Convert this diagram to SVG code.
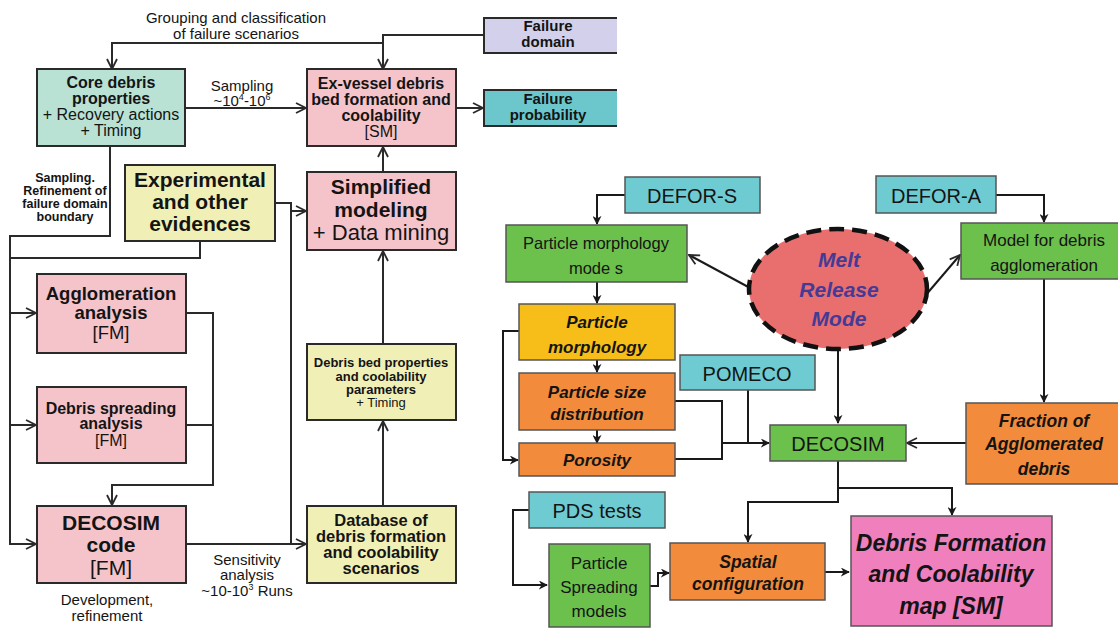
<svg xmlns="http://www.w3.org/2000/svg" width="1118" height="628" viewBox="0 0 1118 628">
  <style>
    text { font-family: "Liberation Sans", Arial, sans-serif; fill: #141414; text-anchor: middle; }
    .b { font-weight: bold; }
    .bi { font-weight: bold; font-style: italic; }
    .box { stroke: #2a2a2a; stroke-width: 2; }
    .rbox { stroke: #555; stroke-width: 1.5; }
    .pink { fill: #f5c4ca; }
    .teal { fill: #b9e2d4; }
    .yel { fill: #f0f0b6; }
    .lav { fill: #d2d0ea; }
    .cyan { fill: #6cc7cc; }
    .rcyan { fill: #6fcbd2; }
    .green { fill: #6cc04c; }
    .gold { fill: #f7bd18; }
    .orange { fill: #f28b3c; }
    .magenta { fill: #ef80bd; }
    .wire { fill: none; stroke: #2a2a2a; stroke-width: 2; }
    .rwire { fill: none; stroke: #1a1a1a; stroke-width: 2; }
  </style>
  <defs>
    <marker id="vee" viewBox="0 0 12 12" refX="11" refY="6" markerWidth="12" markerHeight="12" markerUnits="userSpaceOnUse" orient="auto">
      <path d="M1,1 L11,6 L1,11" fill="none" stroke="#2a2a2a" stroke-width="1.8"/>
    </marker>
    <marker id="tri" viewBox="0 0 10 10" refX="9" refY="5" markerWidth="9" markerHeight="9" markerUnits="userSpaceOnUse" orient="auto">
      <path d="M0,0 L10,5 L0,10 L3,5 Z" fill="#1a1a1a"/>
    </marker>
    <!-- the left chart is cut off at its right margin -->
    <clipPath id="left-panel">
      <rect x="0" y="0" width="617" height="160"/>
    </clipPath>
  </defs>
  <rect width="1118" height="628" fill="#ffffff"/>

  <!-- connectors -->
  <g id="connectors">
    <!-- left flow chart -->
    <path class="wire" d="M484,35 H383 V69" marker-end="url(#vee)"/>
    <path class="wire" d="M383,43 H112 V69" marker-end="url(#vee)"/>
    <path class="wire" d="M185,108 H306" marker-end="url(#vee)"/>
    <path class="wire" d="M456,108 H483" marker-end="url(#vee)"/>
    <path class="wire" d="M383,172 V147" marker-end="url(#vee)"/>
    <path class="wire" d="M383,344 V251" marker-end="url(#vee)"/>
    <path class="wire" d="M383,506 V421" marker-end="url(#vee)"/>
    <path class="wire" d="M110,146 V236 H10 V544 H36" marker-end="url(#vee)"/>
    <path class="wire" d="M200,241 V258 H10"/>
    <path class="wire" d="M10,313 H36" marker-end="url(#vee)"/>
    <path class="wire" d="M10,425 H36" marker-end="url(#vee)"/>
    <path class="wire" d="M275,203 H291 V211 H306" marker-end="url(#vee)"/>
    <path class="wire" d="M291,211 V544"/>
    <path class="wire" d="M186,313 H213 V485 H112 V505" marker-end="url(#vee)"/>
    <path class="wire" d="M186,425 H213"/>
    <path class="wire" d="M186,544 H306" marker-end="url(#vee)"/>

    <!-- right flow chart -->
    <path class="rwire" d="M625,195 H597 V224" marker-end="url(#tri)"/>
    <path class="rwire" d="M597,282 V303" marker-end="url(#tri)"/>
    <path class="rwire" d="M597,360 V372" marker-end="url(#tri)"/>
    <path class="rwire" d="M597,430 V443" marker-end="url(#tri)"/>
    <path class="rwire" d="M519,331 H503 V460 H518" marker-end="url(#tri)"/>
    <path class="rwire" d="M675,401 H722 V459 H675"/>
    <path class="rwire" d="M722,443 H769" marker-end="url(#tri)"/>
    <path class="rwire" d="M748,390 V443"/>
    <path class="rwire" stroke-width="2.5" d="M752,289 L689,255" marker-end="url(#vee)"/>
    <path class="rwire" stroke-width="2.5" d="M925,296 L960,255" marker-end="url(#vee)"/>
    <path class="rwire" stroke-width="2.5" d="M838,350 V423" marker-end="url(#tri)"/>
    <path class="rwire" d="M996,195 H1044 V222" marker-end="url(#tri)"/>
    <path class="rwire" d="M1044,279 V402" marker-end="url(#tri)"/>
    <path class="rwire" d="M966,443 H907" marker-end="url(#vee)"/>
    <path class="rwire" d="M838,461 V502 H748 V542" marker-end="url(#tri)"/>
    <path class="rwire" d="M838,488 H952 V515" marker-end="url(#tri)"/>
    <path class="rwire" d="M529,510 H513 V585 H547" marker-end="url(#tri)"/>
    <path class="rwire" d="M650,586 H658 V573 H669" marker-end="url(#tri)"/>
    <path class="rwire" d="M825,572 H849" marker-end="url(#tri)"/>
  </g>

  <!-- connector labels -->
  <g id="labels">
    <text x="236" y="23" font-size="15">Grouping and classification</text>
    <text x="236" y="39" font-size="15">of failure scenarios</text>
    <text x="242" y="91" font-size="15">Sampling</text>
    <text x="242" y="106" font-size="15">~10<tspan font-size="9" dy="-6">4</tspan><tspan dy="6">-10</tspan><tspan font-size="9" dy="-6">6</tspan></text>
    <text class="b" x="65" y="182" font-size="12.5">Sampling.</text>
    <text class="b" x="65" y="195" font-size="12.5">Refinement of</text>
    <text class="b" x="65" y="208" font-size="12.5">failure domain</text>
    <text class="b" x="65" y="221" font-size="12.5">boundary</text>
    <text x="247" y="565" font-size="15">Sensitivity</text>
    <text x="247" y="580" font-size="15">analysis</text>
    <text x="247" y="596" font-size="15">~10-10<tspan font-size="9" dy="-6">3</tspan><tspan dy="6"> Runs</tspan></text>
    <text x="107" y="605" font-size="15">Development,</text>
    <text x="107" y="621" font-size="15">refinement</text>
  </g>

  <!-- left flow chart nodes -->
  <g id="core-debris">
    <rect class="box teal" x="37" y="69" width="148" height="77"/>
    <text class="b" x="111" y="88" font-size="16">Core debris</text>
    <text class="b" x="111" y="104" font-size="16">properties</text>
    <text x="111" y="120" font-size="16">+ Recovery actions</text>
    <text x="111" y="136" font-size="16">+ Timing</text>
  </g>
  <g id="ex-vessel">
    <rect class="box pink" x="307" y="69" width="149" height="77"/>
    <text class="b" x="381" y="89" font-size="16">Ex-vessel debris</text>
    <text class="b" x="381" y="105" font-size="16">bed formation and</text>
    <text class="b" x="381" y="121" font-size="16">coolability</text>
    <text x="381" y="137" font-size="16">[SM]</text>
  </g>
  <g id="failure-domain" clip-path="url(#left-panel)">
    <rect class="box lav" x="484" y="18" width="145" height="35"/>
    <text class="b" x="548" y="31" font-size="15">Failure</text>
    <text class="b" x="548" y="47" font-size="15">domain</text>
  </g>
  <g id="failure-probability" clip-path="url(#left-panel)">
    <rect class="box cyan" x="484" y="90" width="145" height="36"/>
    <text class="b" x="548" y="104" font-size="15">Failure</text>
    <text class="b" x="548" y="120" font-size="15">probability</text>
  </g>
  <g id="experimental">
    <rect class="box yel" x="125" y="165" width="150" height="76"/>
    <text class="b" x="200" y="187" font-size="21">Experimental</text>
    <text class="b" x="200" y="209" font-size="21">and other</text>
    <text class="b" x="200" y="231" font-size="21">evidences</text>
  </g>
  <g id="simplified-modeling">
    <rect class="box pink" x="307" y="172" width="149" height="78"/>
    <text class="b" x="381" y="194" font-size="21">Simplified</text>
    <text class="b" x="381" y="217" font-size="21">modeling</text>
    <text x="381" y="240" font-size="22">+ Data mining</text>
  </g>
  <g id="debris-bed-properties">
    <rect class="box yel" x="307" y="344" width="149" height="76"/>
    <text class="b" x="381" y="367" font-size="13">Debris bed properties</text>
    <text class="b" x="381" y="381" font-size="13">and coolability</text>
    <text class="b" x="381" y="394" font-size="13">parameters</text>
    <text x="381" y="407" font-size="13">+ Timing</text>
  </g>
  <g id="database">
    <rect class="box yel" x="307" y="506" width="149" height="77"/>
    <text class="b" x="381" y="526" font-size="16.5">Database of</text>
    <text class="b" x="381" y="542" font-size="16.5">debris formation</text>
    <text class="b" x="381" y="558" font-size="16.5">and coolability</text>
    <text class="b" x="381" y="574" font-size="16.5">scenarios</text>
  </g>
  <g id="agglomeration-analysis">
    <rect class="box pink" x="37" y="274" width="149" height="79"/>
    <text class="b" x="111" y="300" font-size="18.5">Agglomeration</text>
    <text class="b" x="111" y="319" font-size="18.5">analysis</text>
    <text x="111" y="339" font-size="18.5">[FM]</text>
  </g>
  <g id="debris-spreading">
    <rect class="box pink" x="37" y="387" width="149" height="76"/>
    <text class="b" x="111" y="414" font-size="16">Debris spreading</text>
    <text class="b" x="111" y="429" font-size="16">analysis</text>
    <text x="111" y="446" font-size="16">[FM]</text>
  </g>
  <g id="decosim-code">
    <rect class="box pink" x="37" y="506" width="149" height="77"/>
    <text class="b" x="111" y="530" font-size="21">DECOSIM</text>
    <text class="b" x="111" y="552" font-size="21">code</text>
    <text x="111" y="575" font-size="21">[FM]</text>
  </g>

  <!-- right flow chart nodes -->
  <g id="defor-s">
    <rect class="rbox rcyan" x="625" y="177" width="135" height="36"/>
    <text x="692" y="203" font-size="20">DEFOR-S</text>
  </g>
  <g id="particle-morphology-models">
    <rect class="rbox green" x="506" y="225" width="181" height="57"/>
    <text x="596" y="249" font-size="16.5">Particle morphology</text>
    <text x="596" y="274" font-size="16.5">mode s</text>
  </g>
  <g id="melt-release-mode">
    <ellipse cx="838" cy="289" rx="89" ry="60" fill="#e96f6f" stroke="#111" stroke-width="4.5" stroke-dasharray="15 8"/>
    <text class="bi" x="839" y="267" font-size="21" style="fill:#453a96">Melt</text>
    <text class="bi" x="839" y="297" font-size="21" style="fill:#453a96">Release</text>
    <text class="bi" x="839" y="326" font-size="21" style="fill:#453a96">Mode</text>
  </g>
  <g id="defor-a">
    <rect class="rbox rcyan" x="876" y="176" width="120" height="37"/>
    <text x="936" y="203" font-size="20">DEFOR-A</text>
  </g>
  <g id="agglomeration-model">
    <rect class="rbox green" x="961" y="223" width="160" height="56"/>
    <text x="1044" y="246" font-size="17">Model for debris</text>
    <text x="1044" y="271" font-size="17">agglomeration</text>
  </g>
  <g id="particle-morphology">
    <rect class="rbox gold" x="519" y="304" width="156" height="56"/>
    <text class="bi" x="597" y="328" font-size="17">Particle</text>
    <text class="bi" x="597" y="353" font-size="17">morphology</text>
  </g>
  <g id="particle-size">
    <rect class="rbox orange" x="519" y="373" width="156" height="57"/>
    <text class="bi" x="597" y="398" font-size="17">Particle size</text>
    <text class="bi" x="597" y="420" font-size="17">distribution</text>
  </g>
  <g id="porosity">
    <rect class="rbox orange" x="519" y="443" width="156" height="33"/>
    <text class="bi" x="597" y="466" font-size="17">Porosity</text>
  </g>
  <g id="pomeco">
    <rect class="rbox rcyan" x="680" y="355" width="135" height="35"/>
    <text x="747" y="381" font-size="20">POMECO</text>
  </g>
  <g id="decosim">
    <rect class="rbox green" x="770" y="425" width="136" height="36"/>
    <text x="838" y="451" font-size="20">DECOSIM</text>
  </g>
  <g id="fraction-agglomerated">
    <rect class="rbox orange" x="966" y="403" width="155" height="81"/>
    <text class="bi" x="1044" y="427" font-size="17.5">Fraction of</text>
    <text class="bi" x="1044" y="450" font-size="17.5">Agglomerated</text>
    <text class="bi" x="1044" y="475" font-size="17.5">debris</text>
  </g>
  <g id="pds-tests">
    <rect class="rbox rcyan" x="529" y="492" width="136" height="36"/>
    <text x="597" y="518" font-size="20">PDS tests</text>
  </g>
  <g id="particle-spreading">
    <rect class="rbox green" x="549" y="544" width="101" height="83"/>
    <text x="599" y="569" font-size="17">Particle</text>
    <text x="599" y="593" font-size="17">Spreading</text>
    <text x="599" y="617" font-size="17">models</text>
  </g>
  <g id="spatial-configuration">
    <rect class="rbox orange" x="670" y="543" width="155" height="57"/>
    <text class="bi" x="748" y="568" font-size="17.5">Spatial</text>
    <text class="bi" x="748" y="590" font-size="17.5">configuration</text>
  </g>
  <g id="coolability-map">
    <rect class="rbox magenta" x="851" y="516" width="201" height="110"/>
    <text class="bi" x="951" y="551" font-size="23">Debris Formation</text>
    <text class="bi" x="951" y="582" font-size="23">and Coolability</text>
    <text class="bi" x="951" y="614" font-size="23">map [SM]</text>
  </g>
</svg>
